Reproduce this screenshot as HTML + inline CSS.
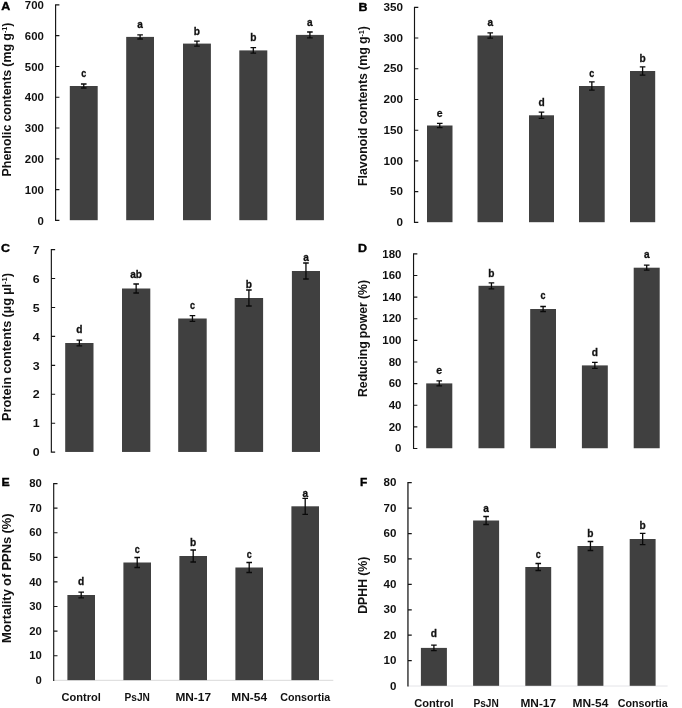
<!DOCTYPE html>
<html lang="en">
<head>
<meta charset="utf-8">
<title>Figure: biochemical contents and nematode mortality bar charts</title>
<style>
html,body{margin:0;padding:0;background:#fff;}
body{width:682px;height:708px;overflow:hidden;}
svg{display:block;}
text{font-family:"Liberation Sans", sans-serif;font-weight:700;fill:#111;}
.pl{font-size:10.8px;fill:#000;stroke:#000;stroke-width:.35px;}
.tk{font-size:10.6px;}
.lt{font-size:10.5px;stroke:#111;stroke-width:.3px;}
.yl{font-size:12px;word-spacing:-.3px;}
.sup{font-size:7px;}
.ct{font-size:10.5px;}
.b{fill:#404040;}
.ax{stroke:#151515;fill:none;}
.eb{stroke:#0a0a0a;stroke-width:1.3;fill:none;}
.xa{stroke-width:1;}
</style>
</head>
<body>
<svg width="682" height="708" viewBox="0 0 682 708">
<rect width="682" height="708" fill="#fff"/>
<g class="panel" id="pA">
<text class="pl" x="1.2" y="9.7" textLength="9" lengthAdjust="spacingAndGlyphs">A</text>
<rect class="b" x="69.8" y="86" width="27.9" height="134.2"/>
<rect class="b" x="126.2" y="36.9" width="27.8" height="183.3"/>
<rect class="b" x="183" y="43.6" width="27.9" height="176.6"/>
<rect class="b" x="239.3" y="50.4" width="28" height="169.8"/>
<rect class="b" x="295.9" y="34.9" width="28" height="185.3"/>
<path class="ax" stroke-width="1.15" d="M55.6 4.3V221M55.6 220.4h3.8M55.6 189.61h3.8M55.6 158.83h3.8M55.6 128.04h3.8M55.6 97.26h3.8M55.6 66.47h3.8M55.6 35.69h3.8M55.6 4.9h3.8"/>
<text class="tk" x="37.55" y="224.5" textLength="6.35" lengthAdjust="spacingAndGlyphs">0</text>
<text class="tk" x="24.85" y="193.71" textLength="19.05" lengthAdjust="spacingAndGlyphs">100</text>
<text class="tk" x="24.85" y="162.93" textLength="19.05" lengthAdjust="spacingAndGlyphs">200</text>
<text class="tk" x="24.85" y="132.14" textLength="19.05" lengthAdjust="spacingAndGlyphs">300</text>
<text class="tk" x="24.85" y="101.36" textLength="19.05" lengthAdjust="spacingAndGlyphs">400</text>
<text class="tk" x="24.85" y="70.57" textLength="19.05" lengthAdjust="spacingAndGlyphs">500</text>
<text class="tk" x="24.85" y="39.79" textLength="19.05" lengthAdjust="spacingAndGlyphs">600</text>
<text class="tk" x="24.85" y="9" textLength="19.05" lengthAdjust="spacingAndGlyphs">700</text>
<text class="yl" transform="translate(10.6 99.5) rotate(-90)" x="-77" y="0" textLength="154" lengthAdjust="spacingAndGlyphs">Phenolic contents (mg g<tspan class="sup" dy="-3.6">-1</tspan><tspan dy="3.6">)</tspan></text>
<path class="eb" d="M83.75 84V88M80.95 84h5.6M80.95 88h5.6"/>
<text class="lt" x="81.25" y="76.8" textLength="5" lengthAdjust="spacingAndGlyphs">c</text>
<path class="eb" d="M140.1 34.8V39M137.3 34.8h5.6M137.3 39h5.6"/>
<text class="lt" x="137.3" y="28.4" textLength="5.6" lengthAdjust="spacingAndGlyphs">a</text>
<path class="eb" d="M196.95 41.1V46.1M194.15 41.1h5.6M194.15 46.1h5.6"/>
<text class="lt" x="193.85" y="34.7" textLength="6.2" lengthAdjust="spacingAndGlyphs">b</text>
<path class="eb" d="M253.3 47.6V53.2M250.5 47.6h5.6M250.5 53.2h5.6"/>
<text class="lt" x="250.2" y="40.9" textLength="6.2" lengthAdjust="spacingAndGlyphs">b</text>
<path class="eb" d="M309.9 32V37.8M307.1 32h5.6M307.1 37.8h5.6"/>
<text class="lt" x="307.1" y="26.2" textLength="5.6" lengthAdjust="spacingAndGlyphs">a</text>
</g>
<g class="panel" id="pB">
<text class="pl" x="358.5" y="10.5" textLength="9" lengthAdjust="spacingAndGlyphs">B</text>
<rect class="b" x="427" y="125.5" width="25.5" height="96.7"/>
<rect class="b" x="477.5" y="35.5" width="25.5" height="186.7"/>
<rect class="b" x="529" y="115.3" width="25" height="106.9"/>
<rect class="b" x="579" y="86" width="25.7" height="136.2"/>
<rect class="b" x="630" y="71" width="25.2" height="151.2"/>
<path class="ax" stroke-width="1.15" d="M414.5 6.7V223M414.5 222.4h3.8M414.5 191.67h3.8M414.5 160.94h3.8M414.5 130.21h3.8M414.5 99.49h3.8M414.5 68.76h3.8M414.5 38.03h3.8M414.5 7.3h3.8"/>
<text class="tk" x="396.4" y="226.1" textLength="6.5" lengthAdjust="spacingAndGlyphs">0</text>
<text class="tk" x="389.9" y="195.37" textLength="13" lengthAdjust="spacingAndGlyphs">50</text>
<text class="tk" x="383.4" y="164.64" textLength="19.5" lengthAdjust="spacingAndGlyphs">100</text>
<text class="tk" x="383.4" y="133.91" textLength="19.5" lengthAdjust="spacingAndGlyphs">150</text>
<text class="tk" x="383.4" y="103.19" textLength="19.5" lengthAdjust="spacingAndGlyphs">200</text>
<text class="tk" x="383.4" y="72.46" textLength="19.5" lengthAdjust="spacingAndGlyphs">250</text>
<text class="tk" x="383.4" y="41.73" textLength="19.5" lengthAdjust="spacingAndGlyphs">300</text>
<text class="tk" x="383.4" y="11" textLength="19.5" lengthAdjust="spacingAndGlyphs">350</text>
<text class="yl" transform="translate(367.3 106) rotate(-90)" x="-80" y="0" textLength="160" lengthAdjust="spacingAndGlyphs">Flavonoid contents (mg g<tspan class="sup" dy="-3.6">-1</tspan><tspan dy="3.6">)</tspan></text>
<path class="eb" d="M439.75 123.3V127.7M436.95 123.3h5.6M436.95 127.7h5.6"/>
<text class="lt" x="436.85" y="117" textLength="5.8" lengthAdjust="spacingAndGlyphs">e</text>
<path class="eb" d="M490.25 32.8V38.2M487.45 32.8h5.6M487.45 38.2h5.6"/>
<text class="lt" x="487.45" y="25.8" textLength="5.6" lengthAdjust="spacingAndGlyphs">a</text>
<path class="eb" d="M541.5 112.2V118.4M538.7 112.2h5.6M538.7 118.4h5.6"/>
<text class="lt" x="538.4" y="106" textLength="6.2" lengthAdjust="spacingAndGlyphs">d</text>
<path class="eb" d="M591.85 81.8V90.2M589.05 81.8h5.6M589.05 90.2h5.6"/>
<text class="lt" x="589.35" y="77.1" textLength="5" lengthAdjust="spacingAndGlyphs">c</text>
<path class="eb" d="M642.6 66.8V75.2M639.8 66.8h5.6M639.8 75.2h5.6"/>
<text class="lt" x="639.5" y="62" textLength="6.2" lengthAdjust="spacingAndGlyphs">b</text>
</g>
<g class="panel" id="pC">
<text class="pl" x="1" y="252.3" textLength="9" lengthAdjust="spacingAndGlyphs">C</text>
<rect class="b" x="65.2" y="343" width="28.3" height="108.95"/>
<rect class="b" x="122" y="288.5" width="28.3" height="163.45"/>
<rect class="b" x="178.2" y="318.5" width="28.5" height="133.45"/>
<rect class="b" x="234.7" y="298" width="28.4" height="153.95"/>
<rect class="b" x="291.9" y="271" width="28.1" height="180.95"/>
<path class="ax" stroke-width="1.15" d="M51.35 249V452.75M51.35 452.15h3.8M51.35 423.21h3.8M51.35 394.28h3.8M51.35 365.34h3.8M51.35 336.41h3.8M51.35 307.47h3.8M51.35 278.54h3.8M51.35 249.6h3.8"/>
<text class="tk" x="32.8" y="456.35" textLength="6.9" lengthAdjust="spacingAndGlyphs">0</text>
<text class="tk" x="32.8" y="427.41" textLength="6.9" lengthAdjust="spacingAndGlyphs">1</text>
<text class="tk" x="32.8" y="398.48" textLength="6.9" lengthAdjust="spacingAndGlyphs">2</text>
<text class="tk" x="32.8" y="369.54" textLength="6.9" lengthAdjust="spacingAndGlyphs">3</text>
<text class="tk" x="32.8" y="340.61" textLength="6.9" lengthAdjust="spacingAndGlyphs">4</text>
<text class="tk" x="32.8" y="311.67" textLength="6.9" lengthAdjust="spacingAndGlyphs">5</text>
<text class="tk" x="32.8" y="282.74" textLength="6.9" lengthAdjust="spacingAndGlyphs">6</text>
<text class="tk" x="32.8" y="253.8" textLength="6.9" lengthAdjust="spacingAndGlyphs">7</text>
<text class="yl" transform="translate(10.6 347) rotate(-90)" x="-74" y="0" textLength="148" lengthAdjust="spacingAndGlyphs">Protein contents (µg µl<tspan class="sup" dy="-3.6">-1</tspan><tspan dy="3.6">)</tspan></text>
<path class="eb" d="M79.35 340.2V345.8M76.55 340.2h5.6M76.55 345.8h5.6"/>
<text class="lt" x="76.25" y="333.2" textLength="6.2" lengthAdjust="spacingAndGlyphs">d</text>
<path class="eb" d="M136.15 284V293M133.35 284h5.6M133.35 293h5.6"/>
<text class="lt" x="130.25" y="278.2" textLength="11.8" lengthAdjust="spacingAndGlyphs">ab</text>
<path class="eb" d="M192.45 315.7V321.3M189.65 315.7h5.6M189.65 321.3h5.6"/>
<text class="lt" x="189.95" y="309" textLength="5" lengthAdjust="spacingAndGlyphs">c</text>
<path class="eb" d="M248.9 290V306M246.1 290h5.6M246.1 306h5.6"/>
<text class="lt" x="245.8" y="288.2" textLength="6.2" lengthAdjust="spacingAndGlyphs">b</text>
<path class="eb" d="M305.95 263V279M303.15 263h5.6M303.15 279h5.6"/>
<text class="lt" x="303.15" y="261" textLength="5.6" lengthAdjust="spacingAndGlyphs">a</text>
</g>
<g class="panel" id="pD">
<text class="pl" x="358" y="252.2" textLength="9" lengthAdjust="spacingAndGlyphs">D</text>
<rect class="b" x="426.2" y="383.4" width="26.1" height="64.85"/>
<rect class="b" x="478.5" y="285.8" width="25.9" height="162.45"/>
<rect class="b" x="530.2" y="309" width="25.8" height="139.25"/>
<rect class="b" x="581.9" y="365.4" width="25.9" height="82.85"/>
<rect class="b" x="633.7" y="267.7" width="26" height="180.55"/>
<path class="ax" stroke-width="1.15" d="M413.55 253.3V449.05M413.55 448.45h3.8M413.55 426.83h3.8M413.55 405.22h3.8M413.55 383.6h3.8M413.55 361.98h3.8M413.55 340.37h3.8M413.55 318.75h3.8M413.55 297.13h3.8M413.55 275.52h3.8M413.55 253.9h3.8"/>
<text class="tk" x="395.1" y="452.15" textLength="6.4" lengthAdjust="spacingAndGlyphs">0</text>
<text class="tk" x="388.7" y="430.53" textLength="12.8" lengthAdjust="spacingAndGlyphs">20</text>
<text class="tk" x="388.7" y="408.92" textLength="12.8" lengthAdjust="spacingAndGlyphs">40</text>
<text class="tk" x="388.7" y="387.3" textLength="12.8" lengthAdjust="spacingAndGlyphs">60</text>
<text class="tk" x="388.7" y="365.68" textLength="12.8" lengthAdjust="spacingAndGlyphs">80</text>
<text class="tk" x="382.3" y="344.07" textLength="19.2" lengthAdjust="spacingAndGlyphs">100</text>
<text class="tk" x="382.3" y="322.45" textLength="19.2" lengthAdjust="spacingAndGlyphs">120</text>
<text class="tk" x="382.3" y="300.83" textLength="19.2" lengthAdjust="spacingAndGlyphs">140</text>
<text class="tk" x="382.3" y="279.22" textLength="19.2" lengthAdjust="spacingAndGlyphs">160</text>
<text class="tk" x="382.3" y="257.6" textLength="19.2" lengthAdjust="spacingAndGlyphs">180</text>
<text class="yl" transform="translate(366.6 338.5) rotate(-90)" x="-58.5" y="0" textLength="117" lengthAdjust="spacingAndGlyphs">Reducing power (%)</text>
<path class="eb" d="M439.25 380.9V385.9M436.45 380.9h5.6M436.45 385.9h5.6"/>
<text class="lt" x="436.35" y="373.5" textLength="5.8" lengthAdjust="spacingAndGlyphs">e</text>
<path class="eb" d="M491.45 282.8V288.8M488.65 282.8h5.6M488.65 288.8h5.6"/>
<text class="lt" x="488.35" y="277" textLength="6.2" lengthAdjust="spacingAndGlyphs">b</text>
<path class="eb" d="M543.1 306.5V311.5M540.3 306.5h5.6M540.3 311.5h5.6"/>
<text class="lt" x="540.6" y="299.3" textLength="5" lengthAdjust="spacingAndGlyphs">c</text>
<path class="eb" d="M594.85 362.4V368.4M592.05 362.4h5.6M592.05 368.4h5.6"/>
<text class="lt" x="591.75" y="355.8" textLength="6.2" lengthAdjust="spacingAndGlyphs">d</text>
<path class="eb" d="M646.7 265.2V270.2M643.9 265.2h5.6M643.9 270.2h5.6"/>
<text class="lt" x="643.9" y="258.2" textLength="5.6" lengthAdjust="spacingAndGlyphs">a</text>
</g>
<g class="panel" id="pE">
<text class="pl" x="1.5" y="486" textLength="8.2" lengthAdjust="spacingAndGlyphs">E</text>
<line class="xa" stroke="#d9d9d9" x1="53.7" y1="680.3" x2="333.3" y2="680.3"/>
<rect class="b" x="67.4" y="595" width="27.6" height="85.1"/>
<rect class="b" x="123.4" y="562.5" width="27.6" height="117.6"/>
<rect class="b" x="179.4" y="556" width="27.6" height="124.1"/>
<rect class="b" x="235.4" y="567.5" width="27.6" height="112.6"/>
<rect class="b" x="291.4" y="506.3" width="27.6" height="173.8"/>
<path class="ax" stroke-width="1.15" d="M53.7 482.95V680.9M53.7 655.71h3.8M53.7 631.11h3.8M53.7 606.52h3.8M53.7 581.92h3.8M53.7 557.33h3.8M53.7 532.74h3.8M53.7 508.14h3.8M53.7 483.55h3.8"/>
<text class="tk" x="35.5" y="684" textLength="6.3" lengthAdjust="spacingAndGlyphs">0</text>
<text class="tk" x="29.2" y="659.41" textLength="12.6" lengthAdjust="spacingAndGlyphs">10</text>
<text class="tk" x="29.2" y="634.81" textLength="12.6" lengthAdjust="spacingAndGlyphs">20</text>
<text class="tk" x="29.2" y="610.22" textLength="12.6" lengthAdjust="spacingAndGlyphs">30</text>
<text class="tk" x="29.2" y="585.62" textLength="12.6" lengthAdjust="spacingAndGlyphs">40</text>
<text class="tk" x="29.2" y="561.03" textLength="12.6" lengthAdjust="spacingAndGlyphs">50</text>
<text class="tk" x="29.2" y="536.44" textLength="12.6" lengthAdjust="spacingAndGlyphs">60</text>
<text class="tk" x="29.2" y="511.84" textLength="12.6" lengthAdjust="spacingAndGlyphs">70</text>
<text class="tk" x="29.2" y="487.25" textLength="12.6" lengthAdjust="spacingAndGlyphs">80</text>
<text class="yl" transform="translate(10.6 578.2) rotate(-90)" x="-64.75" y="0" textLength="129.5" lengthAdjust="spacingAndGlyphs">Mortality of PPNs (%)</text>
<path class="eb" d="M81.2 592.2V597.8M78.4 592.2h5.6M78.4 597.8h5.6"/>
<text class="lt" x="78.1" y="585.2" textLength="6.2" lengthAdjust="spacingAndGlyphs">d</text>
<path class="eb" d="M137.2 557.5V567.5M134.4 557.5h5.6M134.4 567.5h5.6"/>
<text class="lt" x="134.7" y="553" textLength="5" lengthAdjust="spacingAndGlyphs">c</text>
<path class="eb" d="M193.2 550V562M190.4 550h5.6M190.4 562h5.6"/>
<text class="lt" x="190.1" y="546" textLength="6.2" lengthAdjust="spacingAndGlyphs">b</text>
<path class="eb" d="M249.2 562.5V572.5M246.4 562.5h5.6M246.4 572.5h5.6"/>
<text class="lt" x="246.7" y="558.2" textLength="5" lengthAdjust="spacingAndGlyphs">c</text>
<path class="eb" d="M305.2 498.3V514.3M302.4 498.3h5.6M302.4 514.3h5.6"/>
<text class="lt" x="302.4" y="497.3" textLength="5.6" lengthAdjust="spacingAndGlyphs">a</text>
<text class="ct" x="61.5" y="700.5" textLength="39.4" lengthAdjust="spacingAndGlyphs">Control</text>
<text class="ct" x="124.5" y="700.5" textLength="25.4" lengthAdjust="spacingAndGlyphs">PsJN</text>
<text class="ct" x="175.4" y="700.5" textLength="35.6" lengthAdjust="spacingAndGlyphs">MN-17</text>
<text class="ct" x="231.25" y="700.5" textLength="35.9" lengthAdjust="spacingAndGlyphs">MN-54</text>
<text class="ct" x="280.2" y="700.5" textLength="50" lengthAdjust="spacingAndGlyphs">Consortia</text>
</g>
<g class="panel" id="pF">
<text class="pl" x="360" y="486" textLength="7.3" lengthAdjust="spacingAndGlyphs">F</text>
<line class="xa" stroke="#e4e4e8" x1="407.95" y1="686" x2="667.6" y2="686"/>
<rect class="b" x="420.9" y="647.9" width="26" height="37.9"/>
<rect class="b" x="473.1" y="520.5" width="26" height="165.3"/>
<rect class="b" x="525.3" y="567" width="25.9" height="118.8"/>
<rect class="b" x="577.5" y="546" width="25.9" height="139.8"/>
<rect class="b" x="629.7" y="539" width="25.9" height="146.8"/>
<path class="ax" stroke-width="1.25" d="M407.95 482.1V686.6M407.95 660.59h3.8M407.95 635.17h3.8M407.95 609.76h3.8M407.95 584.35h3.8M407.95 558.94h3.8M407.95 533.52h3.8M407.95 508.11h3.8M407.95 482.7h3.8"/>
<text class="tk" x="389.95" y="689.6" textLength="6.45" lengthAdjust="spacingAndGlyphs">0</text>
<text class="tk" x="383.5" y="664.19" textLength="12.9" lengthAdjust="spacingAndGlyphs">10</text>
<text class="tk" x="383.5" y="638.77" textLength="12.9" lengthAdjust="spacingAndGlyphs">20</text>
<text class="tk" x="383.5" y="613.36" textLength="12.9" lengthAdjust="spacingAndGlyphs">30</text>
<text class="tk" x="383.5" y="587.95" textLength="12.9" lengthAdjust="spacingAndGlyphs">40</text>
<text class="tk" x="383.5" y="562.54" textLength="12.9" lengthAdjust="spacingAndGlyphs">50</text>
<text class="tk" x="383.5" y="537.12" textLength="12.9" lengthAdjust="spacingAndGlyphs">60</text>
<text class="tk" x="383.5" y="511.71" textLength="12.9" lengthAdjust="spacingAndGlyphs">70</text>
<text class="tk" x="383.5" y="486.3" textLength="12.9" lengthAdjust="spacingAndGlyphs">80</text>
<text class="yl" transform="translate(367.2 585.2) rotate(-90)" x="-28.65" y="0" textLength="57.3" lengthAdjust="spacingAndGlyphs">DPHH (%)</text>
<path class="eb" d="M433.9 645.1V650.7M431.1 645.1h5.6M431.1 650.7h5.6"/>
<text class="lt" x="430.8" y="637.3" textLength="6.2" lengthAdjust="spacingAndGlyphs">d</text>
<path class="eb" d="M486.1 516.5V524.5M483.3 516.5h5.6M483.3 524.5h5.6"/>
<text class="lt" x="483.3" y="511.8" textLength="5.6" lengthAdjust="spacingAndGlyphs">a</text>
<path class="eb" d="M538.25 563.5V570.5M535.45 563.5h5.6M535.45 570.5h5.6"/>
<text class="lt" x="535.75" y="557.8" textLength="5" lengthAdjust="spacingAndGlyphs">c</text>
<path class="eb" d="M590.45 541.5V550.5M587.65 541.5h5.6M587.65 550.5h5.6"/>
<text class="lt" x="587.35" y="537" textLength="6.2" lengthAdjust="spacingAndGlyphs">b</text>
<path class="eb" d="M642.65 533.3V544.7M639.85 533.3h5.6M639.85 544.7h5.6"/>
<text class="lt" x="639.55" y="529.2" textLength="6.2" lengthAdjust="spacingAndGlyphs">b</text>
<text class="ct" x="414.2" y="706.8" textLength="39.4" lengthAdjust="spacingAndGlyphs">Control</text>
<text class="ct" x="473.4" y="706.8" textLength="25.4" lengthAdjust="spacingAndGlyphs">PsJN</text>
<text class="ct" x="520.45" y="706.8" textLength="35.6" lengthAdjust="spacingAndGlyphs">MN-17</text>
<text class="ct" x="572.5" y="706.8" textLength="35.9" lengthAdjust="spacingAndGlyphs">MN-54</text>
<text class="ct" x="617.65" y="706.8" textLength="50" lengthAdjust="spacingAndGlyphs">Consortia</text>
</g>
</svg>
</body>
</html>
